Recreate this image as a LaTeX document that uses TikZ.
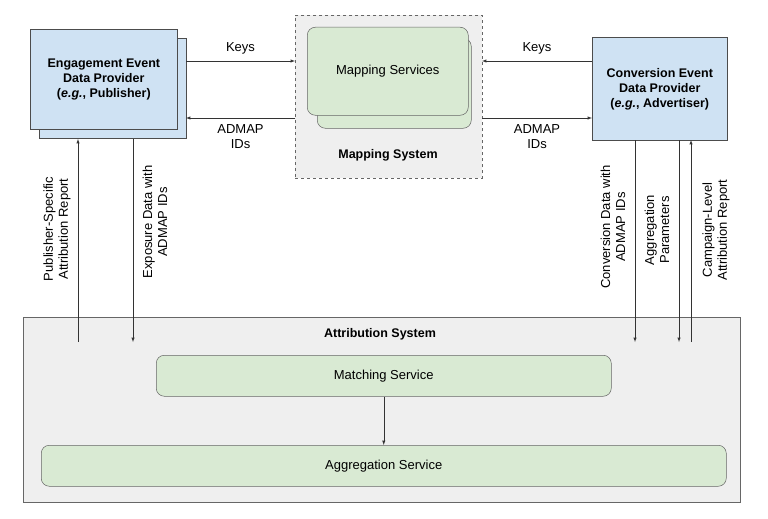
\documentclass[tikz,border=0pt]{standalone}
\usepackage{fontspec}
\setmainfont{Liberation Sans}
\definecolor{bl}{HTML}{CFE2F3}
\definecolor{gr}{HTML}{D9EAD3}
\definecolor{gy}{HTML}{EFEFEF}
\begin{document}
\begin{tikzpicture}[x=1pt,y=-1pt,
  blue/.style={draw=black!70,fill=bl,line width=0.6pt},
  green/.style={draw=black!60,fill=gr,rounded corners=8pt,line width=0.5pt},
  gray/.style={draw=black!60,fill=gy,line width=0.5pt},
  arr/.style={-latex,line width=0.5pt,black!80},
  lbl/.style={font=\fontsize{13}{15}\selectfont,align=center},
  bld/.style={font=\fontsize{12.5}{15}\selectfont\bfseries,align=center},
  vl/.style={lbl,rotate=90}]
\useasboundingbox (0,0) rectangle (768,519);
% Mapping system
\node[gray,dashed,minimum width=187,minimum height=163,anchor=north west] (ms) at (295,15) {};
\node[green,minimum width=154,minimum height=90,anchor=north west] (msb) at (317,38) {};
\node[green,minimum width=161,minimum height=88,anchor=north west,lbl] (msf) at (307,27) {Mapping Services};
\node[bld] (mst) at (388,155) {Mapping System};
% Left provider
\node[blue,minimum width=147,minimum height=100,anchor=north west] (lb) at (39,38) {};
\node[blue,minimum width=147,minimum height=100,anchor=north west,bld] (lf) at (30,29) {Engagement Event\\Data Provider\\(\textit{e.g.}, Publisher)};
% Right provider
\node[blue,minimum width=135,minimum height=103,anchor=north west,bld] (rf) at (592,37) {Conversion Event\\Data Provider\\(\textit{e.g.}, Advertiser)};
% Attribution system
\node[gray,minimum width=717,minimum height=185,anchor=north west] (as) at (23,317) {};
\node[bld] (ast) at (380,334) {Attribution System};
\node[green,minimum width=455,minimum height=41,anchor=north west,lbl] (mt) at (156,355) {Matching Service};
\node[green,minimum width=685,minimum height=41,anchor=north west,lbl] (ag) at (41,445) {Aggregation Service};
\draw[arr] (mt.south) -- (ag.north);
% horizontal arrows
\coordinate (k1a) at (186,61); \coordinate (k1b) at (295,61);
\draw[arr] (k1a) -- (k1b) node[midway,above=3pt,lbl,black] (kl) {Keys};
\coordinate (a1a) at (295,118); \coordinate (a1b) at (186,118);
\draw[arr] (a1a) -- (a1b) node[midway,below=3pt,lbl,black] (al) {ADMAP\\IDs};
\coordinate (k2a) at (592,61); \coordinate (k2b) at (482,61);
\draw[arr] (k2a) -- (k2b) node[midway,above=3pt,lbl,black] (kr) {Keys};
\coordinate (a2a) at (482,118); \coordinate (a2b) at (592,118);
\draw[arr] (a2a) -- (a2b) node[midway,below=3pt,lbl,black] (ar) {ADMAP\\IDs};
% vertical arrows
\coordinate (v1a) at (78,342); \coordinate (v1b) at (78,139);
\draw[arr] (v1a) -- (v1b);
\coordinate (v2a) at (133,139); \coordinate (v2b) at (133,342);
\draw[arr] (v2a) -- (v2b);
\coordinate (v3a) at (635,140); \coordinate (v3b) at (635,342);
\draw[arr] (v3a) -- (v3b);
\coordinate (v4a) at (679,140); \coordinate (v4b) at (679,342);
\draw[arr] (v4a) -- (v4b);
\coordinate (v5a) at (691,342); \coordinate (v5b) at (691,140);
\draw[arr] (v5a) -- (v5b);
\node[vl] (t1) at (57,229) {Publisher-Specific\\Attribution Report};
\node[vl] (t2) at (155,222) {Exposure Data with\\ADMAP IDs};
\node[vl] (t3) at (613,227) {Conversion Data with\\ADMAP IDs};
\node[vl] (t4) at (657,230) {Aggregation\\Parameters};
\node[vl] (t5) at (716,230) {Campaign-Level\\Attribution Report};
\end{tikzpicture}
\end{document}
